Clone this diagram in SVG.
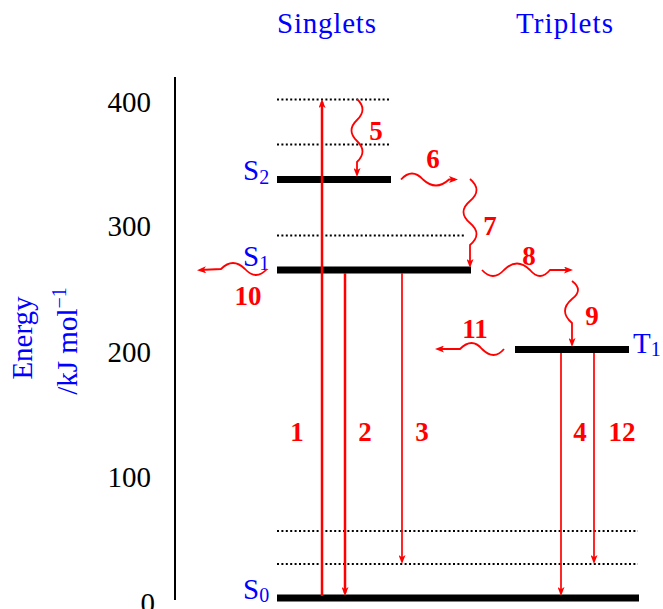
<svg xmlns="http://www.w3.org/2000/svg" width="663" height="609" viewBox="0 0 663 609">
<style>
  .lbl { font-family: "Liberation Serif", "Times New Roman", serif; font-size: 29px; }
  .blue { fill: #0000ff; }
  .tick { fill: #000; text-anchor: end; }
  .num { font-family: "Liberation Serif", "Times New Roman", serif; font-size: 27px; font-weight: bold; fill: #ff0000; text-anchor: middle; }
  .bar { stroke: #000; stroke-width: 6.8; fill: none; }
  .dot { stroke: #000; stroke-width: 2; stroke-dasharray: 2 2.4; fill: none; }
  .sub { font-size: 20px; }
  .ar { stroke: #ff0000; fill: none; marker-end: url(#ah); }
  .thick { stroke-width: 2.5; }
  .thin { stroke-width: 1.7; }
  .wave { stroke-width: 1.8; }
</style>
<defs>
  <marker id="ah" markerUnits="userSpaceOnUse" viewBox="0 0 9 7" refX="6" refY="3.5" markerWidth="9" markerHeight="7" orient="auto">
    <path d="M0,0 L9,3.5 L0,7 L2.2,3.5 z" fill="#ff0000"/>
  </marker>
</defs>

<g id="headers">
  <text class="lbl blue" x="277" y="33" textLength="99" lengthAdjust="spacing">Singlets</text>
  <text class="lbl blue" x="516" y="33" textLength="97" lengthAdjust="spacing">Triplets</text>
</g>

<g id="axis">
  <line x1="175" y1="77" x2="175" y2="600" stroke="#000" stroke-width="2"/>
  <text class="lbl tick" x="151" y="112">400</text>
  <text class="lbl tick" x="151" y="236">300</text>
  <text class="lbl tick" x="151" y="362">200</text>
  <text class="lbl tick" x="151" y="487">100</text>
  <text class="lbl tick" x="155" y="613">0</text>
  <text class="lbl blue" transform="translate(32,338) rotate(-90)" text-anchor="middle">Energy</text>
  <text class="lbl blue" transform="translate(77,341) rotate(-90)" text-anchor="middle">/kJ mol<tspan class="sub" dy="-11">−1</tspan></text>
</g>

<g id="vibrational-levels">
  <line class="dot" x1="277" y1="99.5" x2="390" y2="99.5"/>
  <line class="dot" x1="277" y1="144.5" x2="390" y2="144.5"/>
  <line class="dot" x1="277" y1="235.5" x2="466" y2="235.5"/>
  <line class="dot" x1="277" y1="531" x2="638" y2="531"/>
  <line class="dot" x1="277" y1="564" x2="638" y2="564"/>
</g>

<g id="S2">
  <line class="bar" x1="277" y1="179.5" x2="391" y2="179.5"/>
  <text class="lbl blue" x="243" y="180">S<tspan class="sub" dy="4">2</tspan></text>
</g>
<g id="S1">
  <line class="bar" x1="277" y1="270" x2="471" y2="270"/>
  <text class="lbl blue" x="243" y="266">S<tspan class="sub" dy="4">1</tspan></text>
</g>
<g id="T1">
  <line class="bar" x1="515" y1="349.5" x2="629" y2="349.5"/>
  <text class="lbl blue" x="633" y="353">T<tspan class="sub" dy="3">1</tspan></text>
</g>
<g id="S0">
  <line class="bar" x1="277" y1="598" x2="639" y2="598"/>
  <text class="lbl blue" x="243" y="599">S<tspan class="sub" dy="3">0</tspan></text>
</g>

<g id="connectors">
  <path class="ar thick" d="M322,596 L322,102"/>
  <path class="ar thick" d="M345,273 L345,593"/>
  <path class="ar thin" d="M402,273 L402,561"/>
  <path class="ar thin" d="M561,353 L561,593"/>
  <path class="ar thin" d="M594,353 L594,561"/>

  <path class="ar wave" d="M357,99 q11,10.5 0,21 t0,21 t0,21 L357,174"/>
  <path class="ar wave" d="M401,179.5 q11,-12 22,0 q13,12 26,0 L455,179.5"/>
  <path class="ar wave" d="M470,179 q13,11 0,22 t0,22 t0,22 L470,265"/>
  <path class="ar wave" d="M482,270 q11,12 22,0 q13,-13 26,0 q10,12 20,0 L570,270"/>
  <path class="ar wave" d="M572,281 q12,9 0,18 q-14,12 0,24 L572,344"/>
  <path class="ar wave" d="M267,269 q-11,12 -22,0 q-12,-12 -24,0 L200,270"/>
  <path class="ar wave" d="M504,349 q-10,12 -22,0 q-10,-12 -22,0 L438,349"/>

  <text class="num" x="297" y="441">1</text>
  <text class="num" x="365" y="441">2</text>
  <text class="num" x="422" y="441">3</text>
  <text class="num" x="580" y="441">4</text>
  <text class="num" x="376" y="140">5</text>
  <text class="num" x="433" y="168">6</text>
  <text class="num" x="490" y="235">7</text>
  <text class="num" x="529" y="265">8</text>
  <text class="num" x="592" y="325">9</text>
  <text class="num" x="248" y="305">10</text>
  <text class="num" x="475" y="338">11</text>
  <text class="num" x="622" y="441">12</text>
</g>
</svg>
